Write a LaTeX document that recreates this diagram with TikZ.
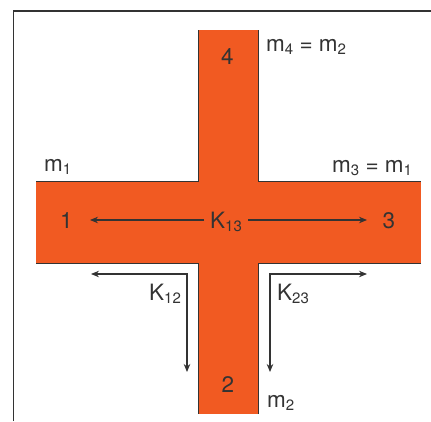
\documentclass[tikz,border=0pt]{standalone}
\usepackage{fontspec}
\setmainfont{TeX Gyre Heros}
\usetikzlibrary{arrows.meta}
\definecolor{crossorange}{HTML}{F15A22}
\definecolor{inkgrey}{HTML}{333333}
\newcommand{\sbs}[1]{\raisebox{-0.3ex}{\fontsize{15}{15}\selectfont #1}}
\tikzset{
  lbl/.style={inner sep=0pt, anchor=base west, text=inkgrey, font=\fontsize{22.5}{24}\selectfont},
  digit/.style={inner sep=0pt, anchor=base, text=inkgrey, font=\fontsize{22.5}{24}\selectfont},
  edge/.style={draw=inkgrey, line width=0.9pt},
  arr/.style={draw=inkgrey, line width=1.1pt, -{Stealth[length=8pt,width=6.5pt]}},
  darr/.style={draw=inkgrey, line width=1.1pt, {Stealth[length=8pt,width=6.5pt]}-{Stealth[length=8pt,width=6.5pt]}}
}
\begin{document}
\begin{tikzpicture}[x=1pt,y=-1pt]
\useasboundingbox (0,0) rectangle (431,421);
% frame
\draw[inkgrey, line width=1.3pt] (13.5,421) -- (13.5,11) -- (431,11);
% cross fill
\fill[crossorange] (198.5,30) rectangle (258,414);
\fill[crossorange] (36,181) rectangle (421,263);
% cross outline
\draw[edge] (198.5,30) -- (198.5,181) -- (36,181);
\draw[edge] (258,30) -- (258,181) -- (421,181);
\draw[edge] (36,263) -- (198.5,263) -- (198.5,414);
\draw[edge] (421,263) -- (258,263) -- (258,414);
% digits
\node[digit] (n4) at (227.5,64) {4};
\node[digit] (n1) at (66.5,228) {1};
\node[digit] (n3) at (389,228) {3};
\node[digit] (n2) at (228,392) {2};
% mass labels
\node[lbl] (m1) at (44,171) {m\sbs{1}};
\node[lbl] (m4) at (266,51) {m\sbs{4} = m\sbs{2}};
\node[lbl] (m3) at (332,172) {m\sbs{3} = m\sbs{1}};
\node[lbl] (m2) at (267,407) {m\sbs{2}};
% K13
\node[lbl, inner xsep=6pt, inner ysep=0pt] (k13) at (204,228) {K\sbs{13}};
\coordinate (a1) at (90,220);
\coordinate (a3) at (367,220);
\draw[arr] (k13.west |- a1) -- (a1);
\draw[arr] (k13.east |- a3) -- (a3);
% K12 / K23
\node[lbl] (k12) at (149,300) {K\sbs{12}};
\node[lbl] (k23) at (277,300) {K\sbs{23}};
\coordinate (c12l) at (91,274);
\coordinate (c12) at (187,274);
\coordinate (c12d) at (187,372);
\coordinate (c23r) at (367,274);
\coordinate (c23) at (270,274);
\coordinate (c23d) at (270,372);
\draw[darr] (c12l) -- (c12) -- (c12d);
\draw[darr] (c23r) -- (c23) -- (c23d);
\end{tikzpicture}
\end{document}
